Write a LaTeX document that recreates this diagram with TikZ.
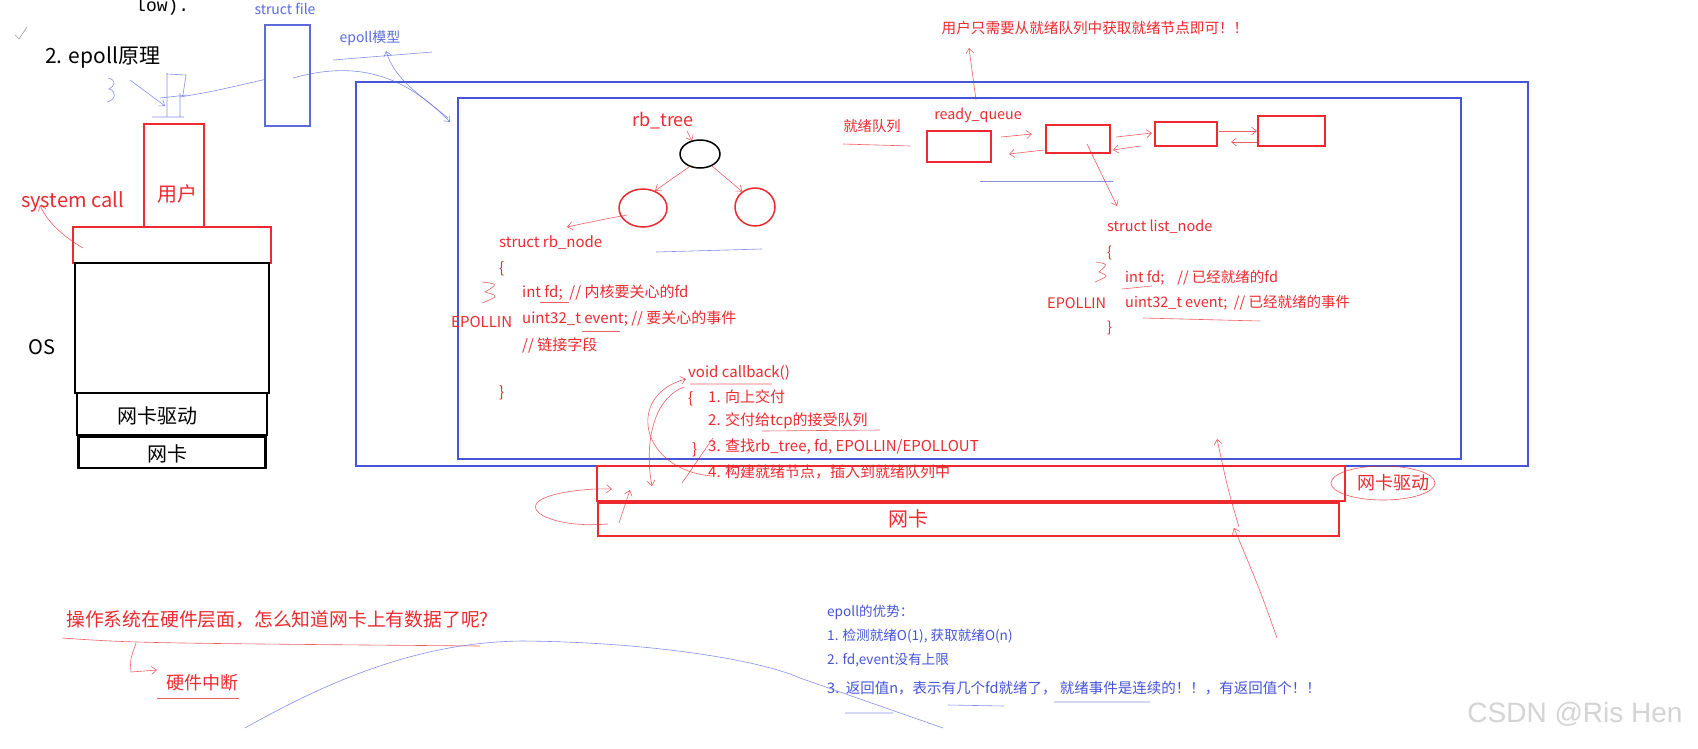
\documentclass[tikz,border=0pt]{standalone}
\usepackage{fontspec}
\setmainfont{Noto Sans CJK SC}
\newfontfamily\monofont{Liberation Mono}
\newfontfamily\wmfont{Liberation Sans}
\usetikzlibrary{arrows.meta,positioning,shapes.geometric}
\definecolor{PenRed}{HTML}{EC2A30}
\definecolor{PenBlue}{HTML}{4654D8}
\definecolor{SoftBlue}{HTML}{5C6ADE}
\definecolor{WaterGray}{HTML}{D4D4D4}
\newcommand{\fsz}[1]{\fontsize{#1}{#1}\selectfont}

\begin{document}
\begin{tikzpicture}[x=1pt,y=-1pt,
redbox/.style={draw=PenRed,line width=1.8pt,inner sep=0pt},
bluebox/.style={draw=PenBlue,line width=1.6pt,inner sep=0pt},
blkbox/.style={draw=black,line width=2.4pt,inner sep=0pt,outer sep=0pt},
lbl/.style={inner sep=0pt,anchor=west},
code/.style={lbl,text=PenRed,font=\fsz{15}},
hand/.style={line width=0.6pt,opacity=0.75},
tip/.style={-{Straight Barb[length=5pt,width=8pt]}}
]
\fill[white] (0,0) rectangle (1698,748);
\useasboundingbox (0,0) rectangle (1698,748);

% left: layers
\node[lbl,font=\monofont\fsz{18}] (low) at (135,7) {low).};
\node[lbl,font=\fsz{21}] (title) at (45,58) {2. epoll原理};
\node[redbox,minimum width=60pt,minimum height=103pt] (user) at (174,175.5) {};
\node[text=PenRed,font=\fsz{20}] (usertxt) at (177,194) {用户};
\node[redbox,outer sep=0pt,minimum width=198pt,minimum height=36pt] (sys) at (172,245) {};
\node[lbl,text=PenRed,font=\fsz{20}] (systxt) at (21,202) {system call};
\node[blkbox,minimum width=194pt,minimum height=130pt,below=0pt of sys] (os) {};
\node[lbl,font=\fsz{20}] (ostxt) at (28,347) {OS};
\node[blkbox,minimum width=190pt,minimum height=42pt,below=0pt of os] (drv) {};
\node[font=\fsz{20}] (drvtxt) at (157,416) {网卡驱动};
\node[blkbox,minimum width=187pt,minimum height=31pt,below=2pt of drv] (nic) {};
\node[font=\fsz{20}] (nictxt) at (167,454) {网卡};

% struct file
\node[text=SoftBlue,font=\fsz{14}] (filetxt) at (285,9) {struct file};
\node[bluebox,draw=SoftBlue,minimum width=45pt,minimum height=101pt] (file) at (287.5,75.5) {};
\node[text=SoftBlue,font=\fsz{14}] (modeltxt) at (370,38) {epoll模型};

% epoll model boxes
\node[bluebox,minimum width=1172pt,minimum height=384pt] (outer) at (942,274) {};
\node[bluebox,minimum width=1003pt,minimum height=361pt] (inner) at (959.5,278.5) {};

% rb tree
\node[text=PenRed,font=\fsz{18}] (rbt) at (663,121) {rb\_tree};
\node[ellipse,draw=black,line width=1.5pt,minimum width=40pt,minimum height=28pt] (root) at (700,154) {};
\node[ellipse,draw=PenRed,line width=1.5pt,minimum width=48pt,minimum height=38pt] (lft) at (643,208) {};
\node[ellipse,draw=PenRed,line width=1.5pt,minimum width=40pt,minimum height=38pt] (rgt) at (755,207) {};
\node[code] (rbn1) at (499,243) {struct rb\_node};
\node[code] (rbn2) at (499,269) {\{};
\node[code] (rbn3) at (522,293) {int fd;~~// 内核要关心的fd};
\node[code] (rbn4) at (522,319) {uint32\_t event; // 要关心的事件};
\node[code] (rbn5) at (522,345) {// 链接字段};
\node[code] (rbn6) at (499,393) {\}};
\node[code] (rbep) at (451,322) {EPOLLIN};

% callback
\node[code] (cb0) at (688,373) {void callback()};
\node[code] (cb1) at (688,399) {\{};
\node[code] (cb2) at (708,397) {1. 向上交付};
\node[code] (cb3) at (708,421) {2. 交付给tcp的接受队列};
\node[code] (cb4) at (708,447) {3. 查找rb\_tree, fd, EPOLLIN/EPOLLOUT};
\node[code] (cb5) at (692,450) {\}};
\node[code] (cb6) at (708,472) {4. 构建就绪节点，插入到就绪队列中};

% ready queue
\node[text=PenRed,font=\fsz{14.6}] (usrnote) at (1095,28) {用户只需要从就绪队列中获取就绪节点即可！！};
\node[text=PenRed,font=\fsz{14.3}] (rqcn) at (872,126) {就绪队列};
\node[text=PenRed,font=\fsz{14.3}] (rqtxt) at (978,115) {ready\_queue};
\node[redbox,minimum width=64pt,minimum height=31pt] (q1) at (959,146.5) {};
\node[redbox,minimum width=64pt,minimum height=28pt] (q2) at (1078,139) {};
\node[redbox,minimum width=62pt,minimum height=24pt] (q3) at (1186,134) {};
\node[redbox,minimum width=67pt,minimum height=30pt] (q4) at (1291.5,131) {};
\node[code,font=\fsz{14.5}] (ln1) at (1107,227) {struct list\_node};
\node[code,font=\fsz{14.5}] (ln2) at (1107,253) {\{};
\node[code,font=\fsz{14.5}] (ln3) at (1125,278) {int fd;~~~~// 已经就绪的fd};
\node[code,font=\fsz{14.5}] (ln4) at (1125,303) {uint32\_t event;~~// 已经就绪的事件};
\node[code,font=\fsz{14.5}] (ln5) at (1107,328) {\}};
\node[code,font=\fsz{14.5}] (lnep) at (1047,303) {EPOLLIN};

% NIC bars
\node[redbox,line width=2pt,minimum width=748pt,minimum height=35pt] (drvbar) at (971,483.5) {};
\node[redbox,line width=2pt,minimum width=741pt,minimum height=33pt] (nicbar) at (968.5,519.5) {};
\node[text=PenRed,font=\fsz{20}] (nicbartxt) at (908,519) {网卡};
\node[ellipse,draw=PenRed,line width=0.6pt,opacity=0.8,minimum width=104pt,minimum height=34pt] (drvell) at (1383,483) {};
\node[text=PenRed,font=\fsz{18}] (drvelltxt) at (1393,483) {网卡驱动};

% bottom notes
\node[lbl,text=PenRed,font=\fsz{18.8}] (q) at (66,620) {操作系统在硬件层面，怎么知道网卡上有数据了呢?};
\node[lbl,text=PenRed,font=\fsz{18}] (irq) at (166,683) {硬件中断};
\node[lbl,text=PenBlue,font=\fsz{13.6}] (adv0) at (827,612) {epoll的优势：};
\node[lbl,text=PenBlue,font=\fsz{13.6}] (adv1) at (827,636) {1. 检测就绪O(1), 获取就绪O(n)};
\node[lbl,text=PenBlue,font=\fsz{13.6}] (adv2) at (827,660) {2. fd,event没有上限};
\node[lbl,text=PenBlue,font=\fsz{14.5}] (adv3) at (827,688) {3.~~返回值n，表示有几个fd就绪了，~就绪事件是连续的！！，有返回值个！！};
\node[text=WaterGray,font=\wmfont\fsz{28}] (mark) at (1575,714) {CSDN @Ris Hen};

% hand strokes, blue
\draw[hand,gray] (15,35) -- (19,39) -- (27,27);
\draw[hand,SoftBlue] (108,78) .. controls (117,80) and (115,86) .. (109,89) .. controls (117,91) and (116,100) .. (107,102);
\draw[hand,SoftBlue,tip] (130,80) -- (165,106);
\draw[hand,SoftBlue] (167,73) -- (167,117) (167,74) -- (186,75) -- (183,95) (160,98) -- (187,95) (180,93) -- (180,117) (152,117) -- (184,117);
\draw[hand,SoftBlue] (180,97) .. controls (210,92) .. (file.190);
\draw[hand,SoftBlue,tip] (293,78) .. controls (350,62) and (400,70) .. (450,122);
\draw[hand,SoftBlue,tip] (448,118) .. controls (420,95) and (395,80) .. (386,51);
\draw[hand,SoftBlue] (333,60) -- (432,52);
\draw[hand,SoftBlue] (656,252) -- (762,249);
\draw[hand,SoftBlue] (980,181) -- (1113,181);
\draw[hand,SoftBlue] (245,728) .. controls (330,680) and (420,642) .. (522,641) .. controls (650,642) and (760,660) .. (800,678) -- (943,728);
\draw[hand,SoftBlue] (845,713) -- (893,713) (948,705) -- (1004,706) (1054,702) -- (1150,702);

% hand strokes, red
\draw[hand,PenRed,tip] (83,248) .. controls (62,236) and (46,220) .. (40,205);
\draw[hand,PenRed,tip] (687,131) -- (692,141);
\draw[hand,PenRed,tip] (root.230) -- (lft.55);
\draw[hand,PenRed,tip] (root.-45) -- (rgt.130);
\draw[hand,PenRed,tip] (627,215) .. controls (600,220) .. (567,227);
\draw[hand,PenRed] (482,282) .. controls (498,284) .. (485,292) .. controls (499,296) .. (482,303);
\draw[hand,PenRed] (540,302) -- (569,302) (582,331) -- (620,331);
\draw[hand,PenRed] (690,384) -- (772,384) (762,431) -- (880,430);
\draw[hand,PenRed,tip] (712,476) .. controls (640,470) and (625,395) .. (686,379);
\draw[hand,PenRed,tip] (684,387) .. controls (650,400) and (645,450) .. (652,486);
\draw[hand,PenRed] (682,483) -- (713,438);
\draw[hand,PenRed,tip] (608,524) .. controls (560,528) and (528,514) .. (537,503) .. controls (546,492) and (590,488) .. (612,489);
\draw[hand,PenRed,tip] (619,523) -- (630,490);
\draw[hand,PenRed] (843,144) -- (910,146);
\draw[hand,PenRed,tip] (976,100) -- (969,48);
\draw[hand,PenRed,tip] (1001,137) -- (1032,134);
\draw[hand,PenRed,tip] (1044,150) -- (1009,154);
\draw[hand,PenRed,tip] (1116,137) -- (1152,133);
\draw[hand,PenRed,tip] (1140,146) -- (1113,150);
\draw[hand,PenRed,tip] (1219,131) -- (1257,131);
\draw[hand,PenRed,tip] (1257,142) -- (1231,142);
\draw[hand,PenRed,tip] (1087,144) -- (1117,206);
\draw[hand,PenRed] (1096,262) .. controls (1108,264) .. (1099,272) .. controls (1109,276) .. (1095,282);
\draw[hand,PenRed] (1122,289) -- (1152,286) (1143,318) -- (1260,321);
\draw[hand,PenRed,tip] (1277,638) .. controls (1260,590) .. (1234,528);
\draw[hand,PenRed,tip] (1239,527) .. controls (1228,490) .. (1217,439);
\draw[hand,PenRed] (62,638) .. controls (135,643) .. (480,646);
\draw[hand,PenRed,tip] (136,643) .. controls (130,660) .. (131,672) -- (157,670);
\draw[hand,PenRed] (157,698) -- (239,698);
\end{tikzpicture}
\end{document}
